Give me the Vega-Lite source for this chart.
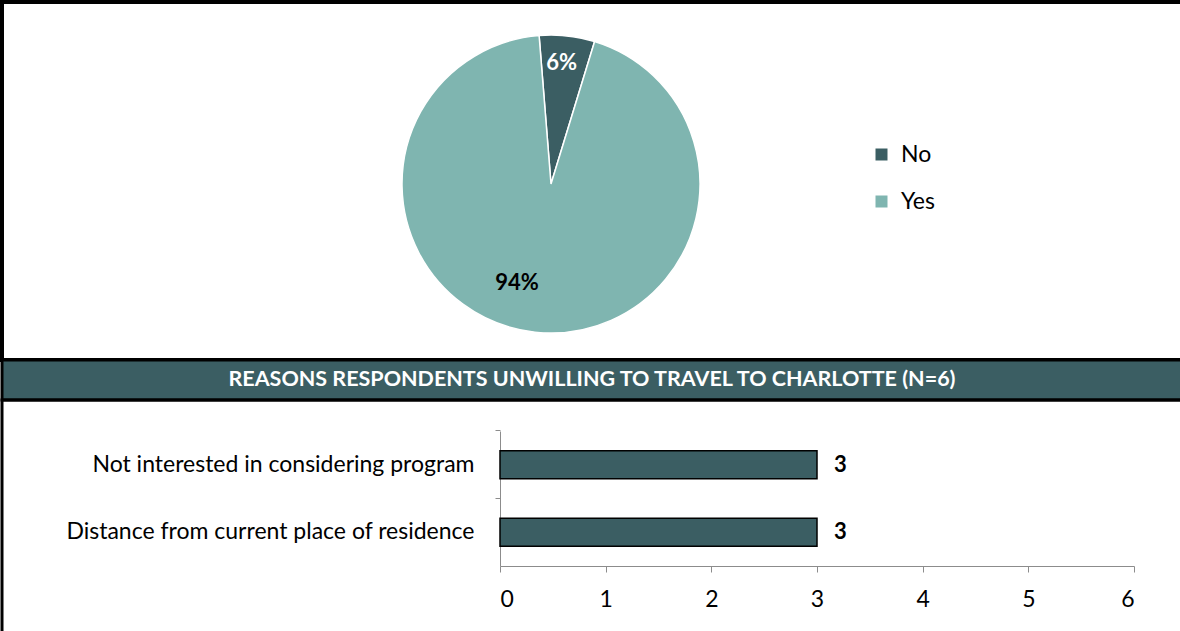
{
  "$schema": "https://vega.github.io/schema/vega-lite/v6.json",
  "padding": 0,
  "spacing": 0,
  "bounds": "flush",
  "background": "white",
  "config": {"font": "Lato", "concat": {"spacing": 0}},
  "vconcat": [
    {
      "width": 1180,
      "height": 358,
      "view": {"stroke": "black", "strokeWidth": 4},
      "data": {"values": [
        {"answer": "No", "pct": 6, "label": "6%"},
        {"answer": "Yes", "pct": 94, "label": "94%"}
      ]},
      "encoding": {
        "theta": {"field": "pct", "type": "quantitative", "stack": true, "scale": {"range": [-0.08, 6.2032]}},
        "detail": {"field": "answer"}
      },
      "layer": [
        {
          "mark": {"type": "arc", "outerRadius": 149, "stroke": "white", "strokeWidth": 1.5, "x": 549, "y": 182},
          "encoding": {
            "color": {"field": "answer", "type": "nominal",
              "scale": {"domain": ["No", "Yes"], "range": ["#3B5E63", "#7FB5B0"]},
              "legend": {"title": null, "orient": "none", "legendX": 868, "legendY": 141, "symbolType": "square", "symbolSize": 144, "symbolStrokeWidth": 0, "labelFontSize": 23, "labelColor": "black", "rowPadding": 23, "labelOffset": 8}}
          }
        },
        {
          "mark": {"type": "text", "radius": 121, "thetaOffset": -0.02, "color": "white", "fontWeight": "bold", "fontSize": 22, "x": 549, "y": 182},
          "encoding": {"text": {"condition": {"test": "datum.answer === 'No'", "field": "label"}, "value": ""}}
        },
        {
          "mark": {"type": "text", "radius": 105, "thetaOffset": 0.22, "color": "black", "fontWeight": "bold", "fontSize": 22, "x": 549, "y": 182},
          "encoding": {"text": {"condition": {"test": "datum.answer === 'Yes'", "field": "label"}, "value": ""}}
        }
      ]
    },
    {
      "width": 1180,
      "height": 40,
      "view": {"fill": "#3B5E63", "stroke": "black", "strokeWidth": 3},
      "data": {"values": [{"title": "REASONS RESPONDENTS UNWILLING TO TRAVEL TO CHARLOTTE (N=6)"}]},
      "mark": {"type": "text", "color": "white", "fontWeight": "bold", "fontSize": 21.5},
      "encoding": {"text": {"field": "title"}}
    },
    {
      "width": 1180,
      "height": 233,
      "view": {"stroke": "black", "strokeWidth": 3},
      "data": {"values": [
        {"reason": "Not interested in considering program", "count": 3},
        {"reason": "Distance from current place of residence", "count": 3}
      ]},
      "encoding": {
        "y": {"field": "reason", "type": "nominal",
          "sort": ["Not interested in considering program", "Distance from current place of residence"],
          "scale": {"range": [31, 166], "paddingInner": 0.585, "paddingOuter": 0.2925},
          "axis": {"title": null, "offset": -498, "bandPosition": -0.705, "domainColor": "#8c8c8c", "tickColor": "#8c8c8c", "tickSize": 5, "labelFontSize": 23, "labelColor": "black", "labelPadding": 21, "labelLimit": 600}},
        "x": {"field": "count", "type": "quantitative",
          "scale": {"domain": [0, 6], "range": [498, 1132]},
          "axis": {"title": null, "offset": -67, "grid": false, "values": [0, 1, 2, 3, 4, 5, 6], "domainColor": "#8c8c8c", "tickColor": "#8c8c8c", "tickSize": 6, "labelFontSize": 23, "labelColor": "black", "labelPadding": 16}}
      },
      "layer": [
        {"mark": {"type": "bar", "color": "#3B5E63", "stroke": "black", "strokeWidth": 1.5}},
        {"mark": {"type": "text", "align": "left", "dx": 17, "fontWeight": "bold", "fontSize": 22, "color": "black"}, "encoding": {"text": {"field": "count"}}}
      ]
    }
  ]
}
